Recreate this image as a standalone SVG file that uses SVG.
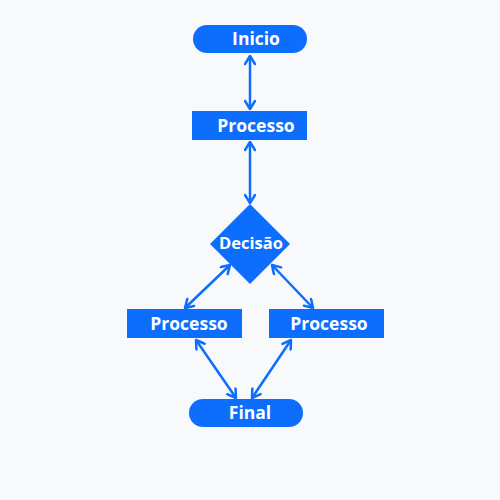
<svg xmlns="http://www.w3.org/2000/svg" width="500" height="500" viewBox="0 0 500 500">
<defs>
<marker id="arr" viewBox="0 0 12 12" refX="10" refY="6" markerWidth="12" markerHeight="12" markerUnits="userSpaceOnUse" orient="auto-start-reverse">
<path d="M2,1 L10,6 L2,11" fill="none" stroke="#0d6efd" stroke-width="2.5" stroke-linecap="round" stroke-linejoin="round"/>
</marker>
<style>
.n{fill:#0d6efd}
.t{fill:#ffffff;font-family:"Open Sans","Noto Sans",sans-serif;font-weight:bold;font-size:17.5px;text-anchor:middle;dominant-baseline:central}
.c{stroke:#0d6efd;stroke-width:2.5;fill:none;marker-start:url(#arr);marker-end:url(#arr)}
</style>
</defs>
<rect width="500" height="500" fill="#f8f9fb"/>
<g id="connectors">
<line class="c" x1="250" y1="56" x2="250" y2="109"/>
<line class="c" x1="250" y1="142" x2="250" y2="203"/>
<line class="c" x1="230" y1="265" x2="185" y2="308"/>
<line class="c" x1="272" y1="265" x2="313" y2="308"/>
<line class="c" x1="196" y1="340" x2="236" y2="398"/>
<line class="c" x1="291" y1="340" x2="252" y2="398"/>
</g>
<g id="inicio">
<rect class="n" x="193" y="25" width="114" height="28" rx="14"/>
<text class="t" x="256" y="38">Inicio</text>
</g>
<g id="processo1">
<rect class="n" x="192" y="111" width="115" height="29"/>
<text class="t" x="256" y="124.5">Processo</text>
</g>
<g id="decisao">
<polygon class="n" points="250,204 290,244 250,284 210,244"/>
<text class="t" x="251" y="242" style="font-size:16.5px">Decisão</text>
</g>
<g id="processo2">
<rect class="n" x="127" y="309" width="115" height="29"/>
<text class="t" x="189" y="322.5">Processo</text>
</g>
<g id="processo3">
<rect class="n" x="269" y="309" width="115" height="29"/>
<text class="t" x="329" y="322.5">Processo</text>
</g>
<g id="final">
<rect class="n" x="189" y="399" width="114" height="28" rx="14"/>
<text class="t" x="250" y="412">Final</text>
</g>
</svg>
